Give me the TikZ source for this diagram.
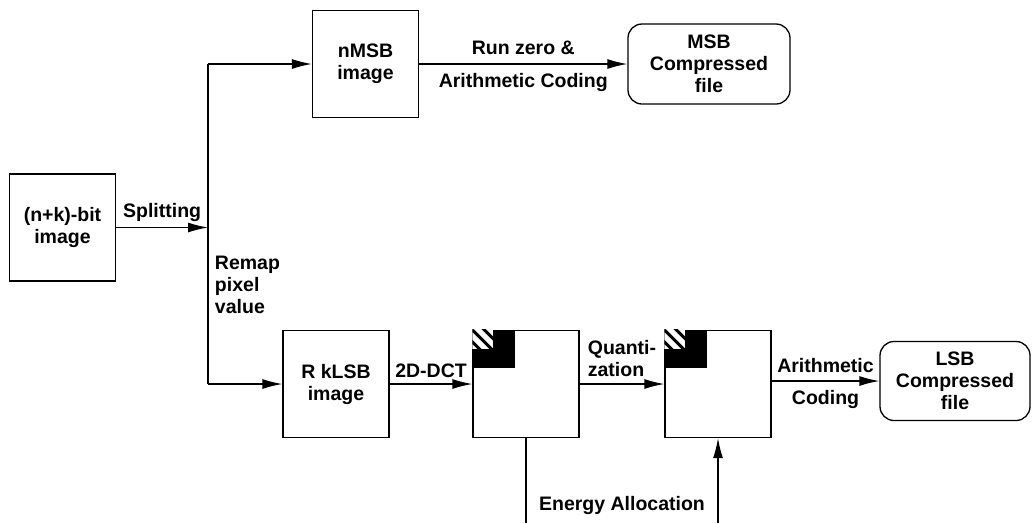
\documentclass[tikz,border=0pt]{standalone}
\usepackage{fontspec}
\setmainfont{Liberation Sans}
\usetikzlibrary{arrows.meta}

\begin{document}
\begin{tikzpicture}[x=1pt,y=-1pt,line width=1.3pt,
  every node/.style={font=\fontsize{19.5}{22}\selectfont\bfseries, align=center},
  blk/.style={draw, minimum width=106pt, minimum height=107pt, inner sep=0pt},
  filebox/.style={draw, rounded corners=14pt, inner sep=0pt},
  arr/.style={-{Latex[length=20pt,width=10pt]}}]
  \useasboundingbox (0,0) rectangle (1032,523);

  % blocks
  \node[blk] (src) at (62.5,227.5) {(n+k)-bit\\image};
  \node[blk] (msb) at (365.5,64) {nMSB\\image};
  \node[blk] (lsb) at (336,384) {R kLSB\\image};
  \node[blk] (dcta) at (526,384) {};
  \node[blk] (dctb) at (718,384) {};
  \node[filebox, minimum width=162pt, minimum height=80pt] (mfile) at (709,64) {MSB\\Compressed\\file};
  \node[filebox, minimum width=150pt, minimum height=79pt] (lfile) at (955,381) {LSB\\Compressed\\file};

  % coefficient corners
  \foreach \b in {dcta,dctb} {
    \fill (\b.north west) rectangle ++(43,38);
    \begin{scope}
      \clip (\b.north west) rectangle ++(21,19);
      \fill[white] (\b.north west) rectangle ++(21,19);
      \foreach \s in {-12,0,12}
        \draw[line width=3pt] (\b.north west) ++(\s-4,-4) -- ++(30,30);
    \end{scope}
  }

  % splitting
  \coordinate (split) at (208,227.5);
  \coordinate (tapm) at (208,64);
  \coordinate (tapl) at (208,384);
  \draw[arr] (src.east) -- (split) node[midway,above=2pt] {Splitting};
  \draw (tapm) -- (tapl);
  \draw[arr] (tapm) -- (msb.west);
  \draw[arr] (tapl) -- (lsb.west);
  \node[anchor=north west, align=left] (remap) at (211,252) {Remap\\pixel\\value};

  % MSB path
  \draw[arr] (msb.east) -- (mfile.west)
    node[midway,above=5pt] {Run zero \&}
    node[midway,below=5pt] {Arithmetic Coding};

  % LSB path
  \draw[arr] (lsb.east) -- (dcta.west) node[midway,above=2pt] {2D-DCT};
  \draw[arr] (dcta.east) -- (dctb.west) node[midway,above=3pt,align=left] {Quanti-\\zation};
  \draw[arr] (dctb.east |- lfile.west) -- (lfile.west)
    node[midway,above=4pt] {Arithmetic}
    node[midway,below=5pt] {Coding};

  % energy allocation
  \coordinate (ebota) at (526,523);
  \coordinate (ebotb) at (718,523);
  \draw (dcta.south) -- (ebota);
  \draw[arr] (ebotb) -- (dctb.south);
  \node (energy) at (622,505) {Energy Allocation};
\end{tikzpicture}
\end{document}
